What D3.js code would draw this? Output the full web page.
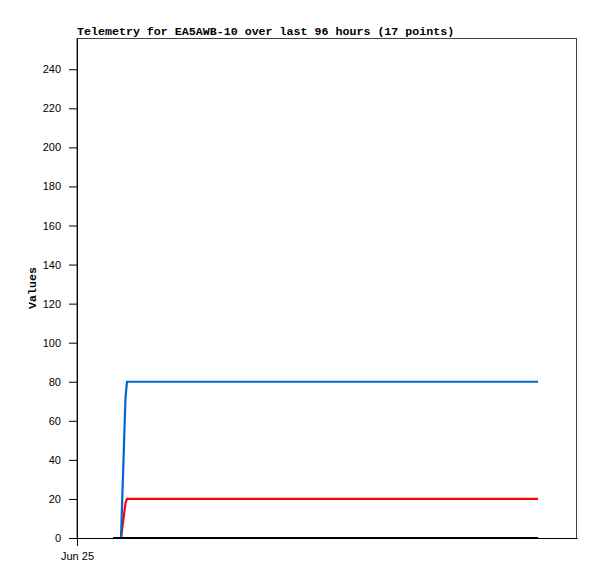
<!DOCTYPE html>
<html><head><meta charset="utf-8">
<script src="https://cdn.jsdelivr.net/npm/d3@7"></script>
<style>body{margin:0;background:#fff}</style>
</head><body>
<svg id="c" width="597" height="579"></svg>
<script>
const times = ["2024-06-25T06:55","2024-06-25T08:27","2024-06-25T08:33","2024-06-25T08:44","2024-06-25T08:56","2024-06-25T09:07","2024-06-25T09:19","2024-06-25T09:36","2024-06-25T19:36","2024-06-26T05:36","2024-06-26T15:30","2024-06-27T01:24","2024-06-27T11:18","2024-06-27T21:12","2024-06-28T07:00","2024-06-28T12:00","2024-06-28T16:31"];
const seriesBlue = [0,0,8,24,40,56,72,80,80,80,80,80,80,80,80,80,80];
const seriesRed  = [0,0,2,6,10,14,18,20,20,20,20,20,20,20,20,20,20];
const seriesBlack= [0,0,0,0,0,0,0,0,0,0,0,0,0,0,0,0,0];
const yTicks = [0,20,40,60,80,100,120,140,160,180,200,220,240];
const xTickLabels = ["Jun 25"];
const xDomain = ["2024-06-25T00:00","2024-06-29T00:00"];
const title = "Telemetry for EA5AWB-10 over last 96 hours (17 points)";

const parse = d3.timeParse("%Y-%m-%dT%H:%M");
const svg = d3.select("#c");
const L=77,R=577,T=38,B=538;
const x = d3.scaleTime().domain(xDomain.map(parse)).range([L,R]);
const y = d3.scaleLinear().domain([0,256]).range([B,T]);

// frame
svg.append("rect").attr("x",L).attr("y",T+0.5).attr("width",R-L-0.5).attr("height",B-T)
  .attr("fill","none").attr("stroke","#444").attr("stroke-width",1);

const mk = vals => times.map((t,i)=>({t:parse(t),v:vals[i]}));
const line = d3.line().x(d=>x(d.t)).y(d=>y(d.v));
[[seriesRed,"#ff0000"],[seriesBlue,"#0066cc"],[seriesBlack,"#000000"]].forEach(([vals,col])=>{
  svg.append("path").datum(mk(vals)).attr("d",line).attr("fill","none")
    .attr("stroke",col).attr("stroke-width",2.2);
});

// y axis
const ya = svg.append("g").attr("transform",`translate(${L},0)`)
  .call(d3.axisLeft(y).tickValues(yTicks).tickSize(8).tickSizeOuter(0).tickPadding(8));
ya.select(".domain").attr("stroke","#000");
ya.selectAll("text").attr("font-family","Liberation Sans, Arial, sans-serif").attr("font-size","11px").attr("fill","#000");

// x axis
const xa = svg.append("g").attr("transform",`translate(0,${B})`)
  .call(d3.axisBottom(x).tickValues([parse(xDomain[0])]).tickFormat((d,i)=>xTickLabels[i]).tickSize(8).tickSizeOuter(0).tickPadding(6));
xa.select(".domain").attr("stroke","#000");
xa.selectAll("text").attr("font-family","Liberation Sans, Arial, sans-serif").attr("font-size","11px").attr("fill","#000");

svg.append("text").attr("x",L).attr("y",35).text(title)
  .attr("font-family","Liberation Mono, DejaVu Sans Mono, monospace").attr("font-weight","bold").attr("font-size","11.65px");
svg.append("text").attr("transform",`translate(36,288) rotate(-90)`).attr("text-anchor","middle").text("Values")
  .attr("font-family","Liberation Mono, DejaVu Sans Mono, monospace").attr("font-weight","bold").attr("font-size","11.65px");
</script>
</body></html>
